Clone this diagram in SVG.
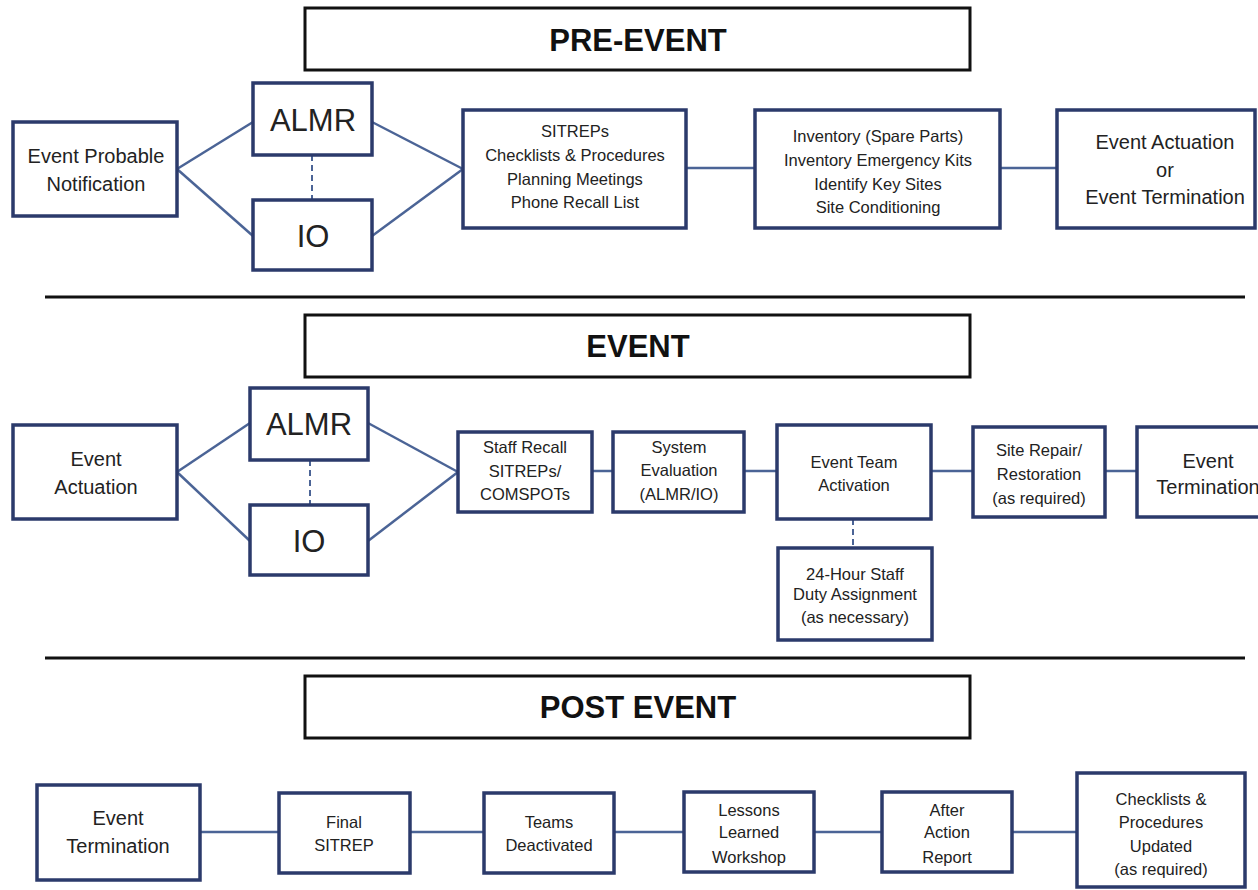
<svg xmlns="http://www.w3.org/2000/svg" width="1258" height="890" viewBox="0 0 1258 890">
<style>
.bg{fill:#ffffff}
.hdr{fill:#fff;stroke:#111;stroke-width:3}
.sep{stroke:#111;stroke-width:3}
.box{fill:#fff;stroke:#2b3a6b;stroke-width:3.5}
.con{stroke:#4b6496;stroke-width:2.5;fill:none}
.dash{stroke:#4b6496;stroke-width:2;stroke-dasharray:6,4;fill:none}
text{font-family:"Liberation Sans",Arial,sans-serif;fill:#222;text-anchor:middle}
.h{font-size:31px;font-weight:bold;fill:#111}
.big{font-size:31px}
.m{font-size:20px}
.s{font-size:16.5px}
</style>
<rect class="bg" x="0" y="0" width="1258" height="890"/>

<g id="connectors">
<line class="con" x1="177" y1="169" x2="253" y2="122"/>
<line class="con" x1="177" y1="169" x2="253" y2="236"/>
<line class="con" x1="372" y1="122" x2="463" y2="169"/>
<line class="con" x1="372" y1="236" x2="463" y2="169"/>
<line class="dash" x1="312" y1="155" x2="312" y2="200"/>
<line class="con" x1="686" y1="168" x2="755" y2="168"/>
<line class="con" x1="1000" y1="168" x2="1057" y2="168"/>

<line class="con" x1="177" y1="472" x2="250" y2="423"/>
<line class="con" x1="177" y1="472" x2="250" y2="541"/>
<line class="con" x1="368" y1="423" x2="458" y2="472"/>
<line class="con" x1="368" y1="541" x2="458" y2="472"/>
<line class="dash" x1="310" y1="460" x2="310" y2="505"/>
<line class="con" x1="592" y1="471" x2="613" y2="471"/>
<line class="con" x1="744" y1="471" x2="777" y2="471"/>
<line class="con" x1="931" y1="471" x2="973" y2="471"/>
<line class="con" x1="1105" y1="471" x2="1137" y2="471"/>
<line class="dash" x1="853" y1="519" x2="853" y2="548"/>

<line class="con" x1="200" y1="832" x2="279" y2="832"/>
<line class="con" x1="410" y1="832" x2="484" y2="832"/>
<line class="con" x1="614" y1="832" x2="684" y2="832"/>
<line class="con" x1="814" y1="832" x2="882" y2="832"/>
<line class="con" x1="1012" y1="832" x2="1077" y2="832"/>
</g>

<g id="separators">
<line class="sep" x1="45" y1="297" x2="1245" y2="297"/>
<line class="sep" x1="45" y1="658" x2="1245" y2="658"/>
</g>

<g id="hdr-pre"><rect class="hdr" x="305" y="8" width="665" height="62"/><text class="h" x="638" y="51">PRE-EVENT</text></g>
<g id="hdr-event"><rect class="hdr" x="305" y="315" width="665" height="62"/><text class="h" x="638" y="357">EVENT</text></g>
<g id="hdr-post"><rect class="hdr" x="305" y="676" width="665" height="62"/><text class="h" x="638" y="718">POST EVENT</text></g>

<!-- PRE-EVENT -->
<g id="pre-notif"><rect class="box" x="13" y="122" width="164" height="94"/><text class="m" x="96" y="163">Event Probable</text><text class="m" x="96" y="191">Notification</text></g>
<g id="pre-almr"><rect class="box" x="253" y="83" width="119" height="72"/><text class="big" x="313" y="131">ALMR</text></g>
<g id="pre-io"><rect class="box" x="253" y="200" width="119" height="70"/><text class="big" x="313" y="247">IO</text></g>
<g id="pre-sitreps"><rect class="box" x="463" y="110" width="223" height="118"/>
<text class="s" x="575" y="137">SITREPs</text><text class="s" x="575" y="161">Checklists &amp; Procedures</text><text class="s" x="575" y="185">Planning Meetings</text><text class="s" x="575" y="208">Phone Recall List</text></g>
<g id="pre-inventory"><rect class="box" x="755" y="110" width="245" height="118"/>
<text class="s" x="878" y="142">Inventory (Spare Parts)</text><text class="s" x="878" y="166">Inventory Emergency Kits</text><text class="s" x="878" y="190">Identify Key Sites</text><text class="s" x="878" y="213">Site Conditioning</text></g>
<g id="pre-actuation"><rect class="box" x="1057" y="110" width="198" height="118"/>
<text class="m" x="1165" y="149">Event Actuation</text><text class="m" x="1165" y="177">or</text><text class="m" x="1165" y="204">Event Termination</text></g>

<!-- EVENT -->
<g id="ev-actuation"><rect class="box" x="13" y="425" width="164" height="94"/><text class="m" x="96" y="466">Event</text><text class="m" x="96" y="494">Actuation</text></g>
<g id="ev-almr"><rect class="box" x="250" y="388" width="118" height="72"/><text class="big" x="309" y="435">ALMR</text></g>
<g id="ev-io"><rect class="box" x="250" y="505" width="118" height="70"/><text class="big" x="309" y="552">IO</text></g>
<g id="ev-staff"><rect class="box" x="458" y="432" width="134" height="80"/>
<text class="s" x="525" y="453">Staff Recall</text><text class="s" x="525" y="477">SITREPs/</text><text class="s" x="525" y="500">COMSPOTs</text></g>
<g id="ev-syseval"><rect class="box" x="613" y="432" width="131" height="80"/>
<text class="s" x="679" y="453">System</text><text class="s" x="679" y="476">Evaluation</text><text class="s" x="679" y="500">(ALMR/IO)</text></g>
<g id="ev-team"><rect class="box" x="777" y="425" width="154" height="94"/>
<text class="s" x="854" y="468">Event Team</text><text class="s" x="854" y="491">Activation</text></g>
<g id="ev-duty"><rect class="box" x="778" y="548" width="154" height="92"/>
<text class="s" x="855" y="580">24-Hour Staff</text><text class="s" x="855" y="600">Duty Assignment</text><text class="s" x="855" y="623">(as necessary)</text></g>
<g id="ev-repair"><rect class="box" x="973" y="427" width="132" height="90"/>
<text class="s" x="1039" y="456">Site Repair/</text><text class="s" x="1039" y="480">Restoration</text><text class="s" x="1039" y="504">(as required)</text></g>
<g id="ev-termination"><rect class="box" x="1137" y="427" width="130" height="90"/>
<text class="m" x="1208" y="468">Event</text><text class="m" x="1208" y="494">Termination</text></g>

<!-- POST EVENT -->
<g id="post-termination"><rect class="box" x="37" y="785" width="163" height="95"/><text class="m" x="118" y="825">Event</text><text class="m" x="118" y="853">Termination</text></g>
<g id="post-final"><rect class="box" x="279" y="793" width="131" height="80"/><text class="s" x="344" y="828">Final</text><text class="s" x="344" y="851">SITREP</text></g>
<g id="post-teams"><rect class="box" x="484" y="793" width="130" height="80"/><text class="s" x="549" y="828">Teams</text><text class="s" x="549" y="851">Deactivated</text></g>
<g id="post-lessons"><rect class="box" x="684" y="792" width="130" height="80"/><text class="s" x="749" y="816">Lessons</text><text class="s" x="749" y="838">Learned</text><text class="s" x="749" y="863">Workshop</text></g>
<g id="post-aar"><rect class="box" x="882" y="792" width="130" height="80"/><text class="s" x="947" y="816">After</text><text class="s" x="947" y="838">Action</text><text class="s" x="947" y="863">Report</text></g>
<g id="post-checklists"><rect class="box" x="1077" y="773" width="168" height="114"/>
<text class="s" x="1161" y="805">Checklists &amp;</text><text class="s" x="1161" y="828">Procedures</text><text class="s" x="1161" y="852">Updated</text><text class="s" x="1161" y="875">(as required)</text></g>
</svg>
